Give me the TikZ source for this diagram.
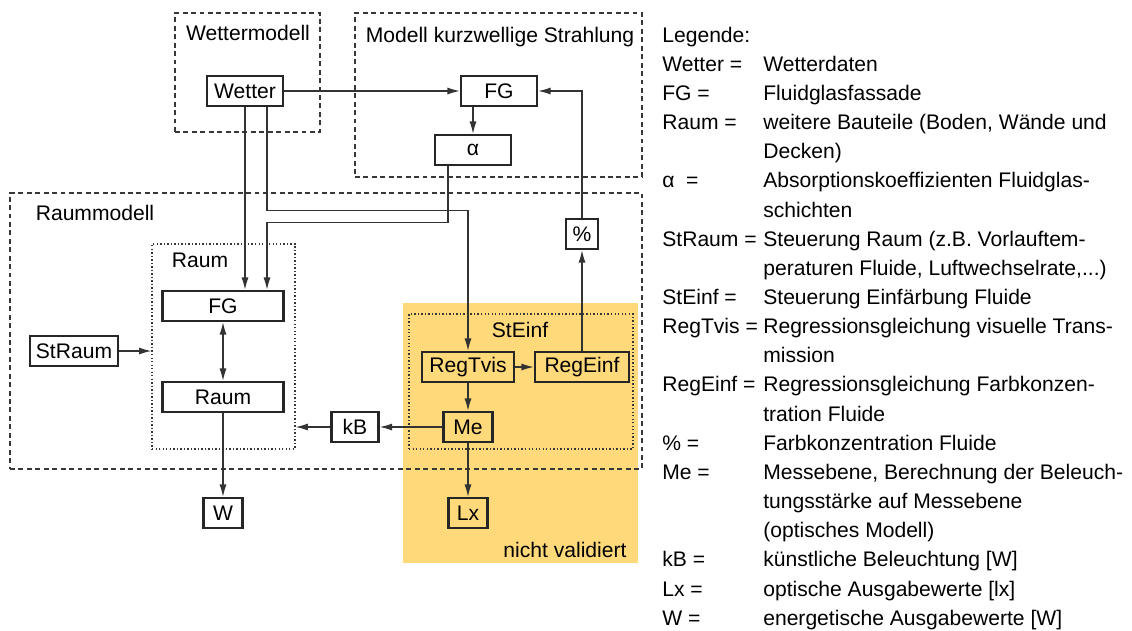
\documentclass[tikz,border=0pt]{standalone}
\usepackage{fontspec}
\setmainfont{Liberation Sans}
\usetikzlibrary{arrows.meta,positioning}
\definecolor{boxline}{RGB}{55,55,55}
\definecolor{notvalid}{RGB}{255,217,122}

\begin{document}
\begin{tikzpicture}[
    x=0.02cm, y=-0.02cm,
    font=\fontsize{12}{16.6}\selectfont,
    block/.style={
      rectangle,
      draw=black!85,
      line width=1.4pt,
      minimum height=0.6cm,
      inner sep=2pt
    },
    modelbox/.style={rectangle, draw=boxline, dash pattern=on 2.8pt off 2pt, line width=0.7pt, inner sep=0pt},
    groupbox/.style={rectangle, draw=boxline, dash pattern=on 0.8pt off 1.2pt, line width=0.7pt, inner sep=0pt},
    caption/.style={inner sep=0pt},
    flow/.style={-{Latex[length=7pt,width=4pt]}, line width=0.7pt, draw=black!80},
    both/.style={{Latex[length=7pt,width=4pt]}-{Latex[length=7pt,width=4pt]}, line width=0.7pt, draw=black!80}
  ]
    \useasboundingbox (0,0) rectangle (1132,630);

    % nicht validierter Bereich
    \node[rectangle, fill=notvalid, inner sep=0pt, minimum width=4.7cm, minimum height=5.2cm] (nv) at (520.5,433) {};
    \node[caption] (nvlabel) at (565,550) {nicht validiert};

    % Modellgrenzen
    \node[modelbox, minimum width=2.9cm, minimum height=2.38cm] (wmodel) at (247.5,72.5) {};
    \node[caption] (wmodellabel) at (248,33) {Wettermodell};
    \node[modelbox, minimum width=5.74cm, minimum height=3.28cm] (smodel) at (498.5,95) {};
    \node[caption] (smodellabel) at (500,37) {Modell kurzwellige Strahlung};
    \node[modelbox, minimum width=12.64cm, minimum height=5.52cm] (rmodel) at (326,331) {};
    \node[caption] (rmodellabel) at (95,213) {Raummodell};
    \node[groupbox, minimum width=2.86cm, minimum height=4.1cm] (raumbox) at (223.5,346.5) {};
    \node[caption] (raumlabel) at (200,260) {Raum};
    \node[groupbox, minimum width=4.48cm, minimum height=2.7cm] (steinf) at (521,381.5) {};
    \node[caption] (steinflabel) at (520,330) {StEinf};

    % Bausteine
    \node[block, minimum width=1.52cm] (wetter) at (245,91) {Wetter};
    \node[block, minimum width=1.52cm] (fgtop) at (499,91) {FG};
    \node[block, minimum width=1.52cm] (alpha) at (473,150) {α};
    \node[block, minimum width=0.64cm] (pct) at (582,234) {\%};
    \node[block, minimum width=2.42cm] (fgraum) at (223,306) {FG};
    \node[block, minimum width=2.42cm] (raum) at (223,397) {Raum};
    \node[block, minimum width=1.76cm] (straum) at (74,351) {StRaum};
    \node[block, minimum width=1.84cm] (regtvis) at (468,367) {RegTvis};
    \node[block, minimum width=1.88cm] (regeinf) at (582,367) {RegEinf};
    \node[block, minimum width=0.98cm] (me) at (468,427) {Me};
    \node[block, minimum width=0.94cm] (kb) at (355,427) {kB};
    \node[block, minimum width=0.78cm] (lx) at (468,513) {Lx};
    \node[block, minimum width=0.78cm] (w) at (223,513) {W};

    % Verbindungen
    \draw[flow] (wetter) -- (fgtop);
    \draw[flow] (fgtop.south -| alpha.north) -- (alpha.north);
    \draw[flow] (wetter.south) -- (wetter.south |- fgraum.north);
    \draw[flow] ([xshift=0.44cm]wetter.south) -- ++(0,103) -| (regtvis.north);
    \draw[flow] ([xshift=-0.5cm]alpha.south) -- ++(0,56) -| ([xshift=0.88cm]fgraum.north);
    \draw[flow] (regeinf.north) -- (pct.south);
    \draw[flow] (pct.north) |- (fgtop.east);
    \draw[flow] (straum) -- (straum -| raumbox.west);
    \draw[both] (fgraum) -- (raum);
    \draw[flow] (raum) -- (w);
    \draw[flow] (regtvis) -- (regeinf);
    \draw[flow] (regtvis) -- (me);
    \draw[flow] (me) -- (lx);
    \draw[flow] (me) -- (kb);
    \draw[flow] (kb) -- (kb -| raumbox.east);

    % Legende
    \node[anchor=base west, inner sep=0pt] (legend) at (662,42) {%
      \begin{tabular}[t]{@{}p{2.02cm}@{}l@{}}
        \multicolumn{2}{@{}l@{}}{Legende:}\\
        Wetter = & Wetterdaten\\
        FG = & Fluidglasfassade\\
        Raum = & weitere Bauteile (Boden, Wände und\\
               & Decken)\\
        α\ \ = & Absorptionskoeffizienten Fluidglas-\\
               & schichten\\
        StRaum = & Steuerung Raum (z.B. Vorlauftem-\\
                 & peraturen Fluide, Luftwechselrate,...)\\
        StEinf = & Steuerung Einfärbung Fluide\\
        RegTvis = & Regressionsgleichung visuelle Trans-\\
                  & mission\\
        RegEinf = & Regressionsgleichung Farbkonzen-\\
                  & tration Fluide\\
        \% = & Farbkonzentration Fluide\\
        Me = & Messebene, Berechnung der Beleuch-\\
             & tungsstärke auf Messebene\\
             & (optisches Modell)\\
        kB = & künstliche Beleuchtung [W]\\
        Lx = & optische Ausgabewerte [lx]\\
        W = & energetische Ausgabewerte [W]
      \end{tabular}};
  \end{tikzpicture}
\end{document}
